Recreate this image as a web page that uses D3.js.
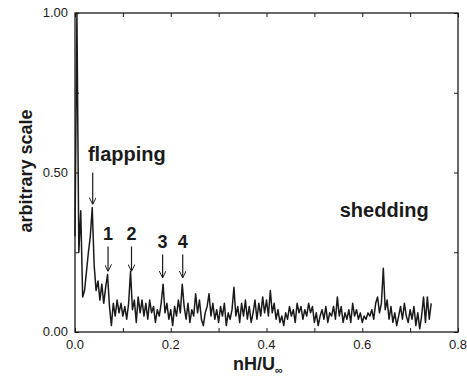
<!DOCTYPE html>
<html>
<head>
<meta charset="utf-8">
<script src="https://cdn.jsdelivr.net/npm/d3@7"></script>
<style>
  body { margin: 0; background: #fff; }
  svg { display: block; font-family: "Liberation Sans", Arial, sans-serif; }
</style>
</head>
<body>
<svg id="chart" width="467" height="376"></svg>
<script>
// spectrum sampled every 0.004 nH/U, starting at 0
var step = 0.004;
var amplitude = [
  0.30, 1.00, 0.25, 0.38, 0.11, 0.13, 0.19, 0.25, 0.30, 0.39,
  0.21, 0.13, 0.16, 0.10, 0.15, 0.09, 0.14, 0.18, 0.08, 0.02,
  0.09, 0.05, 0.10, 0.06, 0.09, 0.05, 0.08, 0.04, 0.09, 0.19,
  0.07, 0.10, 0.03, 0.11, 0.06, 0.10, 0.05, 0.09, 0.04, 0.10,
  0.06, 0.08, 0.03, 0.07, 0.05, 0.09, 0.15, 0.06, 0.09, 0.04,
  0.07, 0.02, 0.08, 0.05, 0.10, 0.06, 0.15, 0.08, 0.04, 0.09,
  0.03, 0.07, 0.05, 0.12, 0.06, 0.10, 0.04, 0.02, 0.06, 0.08,
  0.12, 0.05, 0.09, 0.04, 0.07, 0.03, 0.08, 0.05, 0.09, 0.02,
  0.06, 0.04, 0.07, 0.14, 0.05, 0.08, 0.03, 0.09, 0.05, 0.10,
  0.04, 0.08, 0.03, 0.06, 0.10, 0.04, 0.09, 0.05, 0.11, 0.06,
  0.10, 0.05, 0.13, 0.06, 0.09, 0.04, 0.07, 0.03, 0.05, 0.02,
  0.06, 0.04, 0.08, 0.05, 0.07, 0.03, 0.09, 0.06, 0.08, 0.04,
  0.07, 0.05, 0.09, 0.06, 0.08, 0.03, 0.06, 0.02, 0.05, 0.07,
  0.04, 0.08, 0.03, 0.06, 0.05, 0.08, 0.04, 0.11, 0.05, 0.08,
  0.03, 0.06, 0.04, 0.07, 0.03, 0.09, 0.05, 0.07, 0.04, 0.06,
  0.03, 0.05, 0.04, 0.06, 0.05, 0.07, 0.04, 0.09, 0.11, 0.06,
  0.09, 0.20, 0.07, 0.10, 0.04, 0.08, 0.03, 0.06, 0.02, 0.05,
  0.08, 0.04, 0.09, 0.05, 0.03, 0.07, 0.04, 0.08, 0.02, 0.06,
  0.01, 0.05, 0.11, 0.03, 0.11, 0.04, 0.09
];
var xTickLabels = [0, 0.2, 0.4, 0.6, 0.8];
var yTickLabels = [0, 0.5, 1.0];

// peak markers: label, frequency, arrow tip value
var peakNames = ["1", "2", "3", "4"];
var peakFreqs = [0.069, 0.118, 0.183, 0.225];
var peakTips = [0.19, 0.19, 0.17, 0.17];
var flapFreq = 0.037, flapTip = 0.40;

var points = amplitude.map(function(v, i) { return {f: i * step, v: v}; });

var margin = {top: 13, right: 9, bottom: 44, left: 75};
var width = 467 - margin.left - margin.right;
var height = 376 - margin.top - margin.bottom;
var ink = "#1a1a1a";

var svg = d3.select("#chart");
var g = svg.append("g")
    .attr("transform", "translate(" + margin.left + "," + margin.top + ")");

var x = d3.scaleLinear().domain([0, 0.8]).range([0, width]);
var y = d3.scaleLinear().domain([0, 1]).range([height, 0]);

svg.append("defs").append("marker")
    .attr("id", "head")
    .attr("viewBox", "0 0 10 10")
    .attr("refX", 10).attr("refY", 5)
    .attr("markerWidth", 7).attr("markerHeight", 7)
    .attr("markerUnits", "userSpaceOnUse")
    .attr("orient", "auto")
  .append("path")
    .attr("d", "M0,0 L10,5 L0,10")
    .attr("fill", "none")
    .attr("stroke", ink)
    .attr("stroke-width", 1.4);

// inward ticks on all four sides
var xt = d3.range(0, 0.81, 0.1);
var yt = d3.range(0, 1.01, 0.25);
g.append("g").call(d3.axisBottom(x).tickValues(xt).tickSize(-4).tickFormat(""))
    .attr("transform", "translate(0," + height + ")");
g.append("g").call(d3.axisTop(x).tickValues(xt).tickSize(-4).tickFormat(""));
g.append("g").call(d3.axisLeft(y).tickValues(yt).tickSize(-4).tickFormat(""));
g.append("g").call(d3.axisRight(y).tickValues(yt).tickSize(-4).tickFormat(""))
    .attr("transform", "translate(" + width + ",0)");
g.selectAll(".domain").remove();
g.selectAll(".tick line").attr("stroke", ink).attr("stroke-width", 1);

g.append("rect")
    .attr("width", width).attr("height", height)
    .attr("fill", "none").attr("stroke", ink).attr("stroke-width", 1.3);

// tick labels
g.selectAll(".xl").data(xTickLabels).enter().append("text")
    .attr("x", function(d) { return x(d); })
    .attr("y", height + 17)
    .attr("text-anchor", "middle")
    .attr("font-size", 13)
    .attr("fill", ink)
    .text(function(d) { return d3.format(".1f")(d); });
g.selectAll(".yl").data(yTickLabels).enter().append("text")
    .attr("x", -7)
    .attr("y", function(d) { return y(d) + 4; })
    .attr("text-anchor", "end")
    .attr("font-size", 13)
    .attr("fill", ink)
    .text(function(d) { return d3.format(".2f")(d); });

// axis titles
var xt2 = svg.append("text")
    .attr("x", 258).attr("y", 370)
    .attr("text-anchor", "middle")
    .attr("font-size", 18).attr("font-weight", "bold")
    .attr("fill", ink);
xt2.append("tspan").text("nH/U");
xt2.append("tspan").attr("font-size", 11).attr("dy", 4).text("\u221e");

svg.append("text")
    .attr("transform", "translate(32,171) rotate(-90)")
    .attr("text-anchor", "middle")
    .attr("font-size", 18).attr("font-weight", "bold")
    .attr("fill", ink)
    .text("arbitrary scale");

// spectrum
var line = d3.line()
    .x(function(d) { return x(d.f); })
    .y(function(d) { return y(d.v); });
g.append("path")
    .datum(points)
    .attr("d", line)
    .attr("fill", "none")
    .attr("stroke", ink)
    .attr("stroke-width", 1.5)
    .attr("stroke-linejoin", "round");

// annotations
g.append("text")
    .attr("x", x(0.027)).attr("y", y(0.535))
    .attr("font-size", 20).attr("font-weight", "bold").attr("fill", ink)
    .text("flapping");
g.append("line")
    .attr("x1", x(flapFreq)).attr("x2", x(flapFreq))
    .attr("y1", y(0.50)).attr("y2", y(flapTip))
    .attr("stroke", ink).attr("stroke-width", 1.2)
    .attr("marker-end", "url(#head)");

peakNames.forEach(function(name, i) {
  var top = i < 2 ? 0.288 : 0.263;
  g.append("text")
      .attr("x", x(peakFreqs[i])).attr("y", y(top))
      .attr("text-anchor", "middle")
      .attr("font-size", 18).attr("font-weight", "bold").attr("fill", ink)
      .text(name);
  g.append("line")
      .attr("x1", x(peakFreqs[i])).attr("x2", x(peakFreqs[i]))
      .attr("y1", y(top - 0.02)).attr("y2", y(peakTips[i]))
      .attr("stroke", ink).attr("stroke-width", 1.2)
      .attr("marker-end", "url(#head)");
});

g.append("text")
    .attr("x", x(0.553)).attr("y", y(0.36))
    .attr("font-size", 20).attr("font-weight", "bold").attr("fill", ink)
    .text("shedding");
</script>
</body>
</html>
